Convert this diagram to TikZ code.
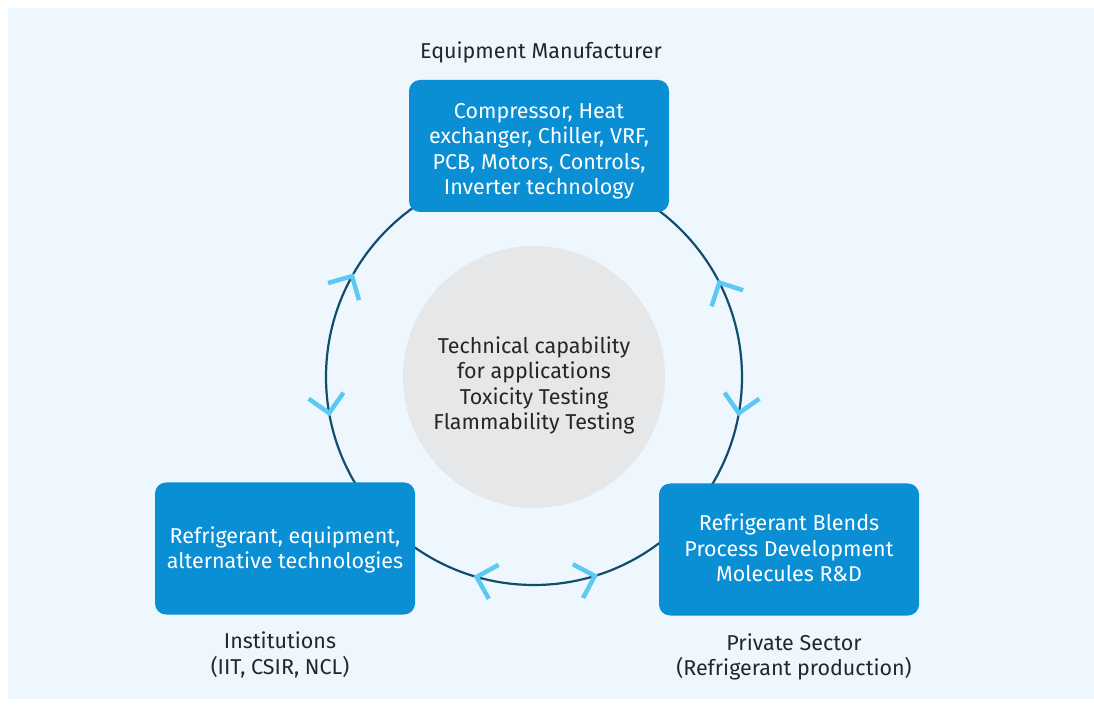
\documentclass[tikz,border=0pt]{standalone}
\usepackage{fontspec}
\setmainfont{Fira Sans}
\usetikzlibrary{calc}
\definecolor{panelbg}{HTML}{EFF7FE}
\definecolor{blockblue}{HTML}{0A8FD5}
\definecolor{ringline}{HTML}{114E6D}
\definecolor{chevcyan}{HTML}{5CC8F4}
\definecolor{coregray}{HTML}{E6E7E9}
\definecolor{labelink}{HTML}{262626}

\begin{document}
\begin{tikzpicture}[
  x=1pt,
  y=1pt,
  every node/.style={font=\fontsize{21.5}{25.5}\selectfont, text=labelink},
  ring/.style={ringline, line width=2.2pt},
  core/.style={circle, fill=coregray, inner sep=0pt, minimum size=262pt},
  block/.style={rectangle, rounded corners=11pt, fill=blockblue,
                inner sep=0pt, minimum width=260pt, minimum height=132pt},
  blocktext/.style={text=white, align=center, inner sep=0pt},
  caption/.style={align=center, inner sep=0pt},
  chevron/.style={chevcyan, line width=4.5pt}
]
  % ---- page and panel ----
  \useasboundingbox (0,0) rectangle (1094,704);
  \fill[panelbg] (8,5) rectangle (1094,696);

  % ---- ring and core ----
  \coordinate (hub) at (534,327);
  \draw[ring] (hub) circle[radius=208];
  \node[core] (capability) at (hub) {};
  \node[caption] (capabilitytext) at (534,318.5)
    {Technical capability\\for applications\\Toxicity Testing\\Flammability Testing};

  % ---- chevrons on the ring (angle / sense) ----
  \foreach \a/\s in {151/-1, 190/1, 27/1, -10/-1, 254/-1, 287/1}{
    \pgfmathsetmacro{\d}{\a+90*\s}
    \draw[chevron] ($(hub)+(\a:208)$) ++(\d+135:25) -- ++(\d-45:25) -- ++(\d-135:25);
  }

  % ---- the three blocks ----
  \node[block] (equipment) at (539,558) {};
  \node[block] (institutions) at (285,155.5) {};
  \node[block] (private) at (789,154.5) {};

  % ---- block texts (set a little off centre, as printed) ----
  \node[blocktext] (equipmenttext) at ([yshift=-5.5pt]equipment.center)
    {Compressor, Heat\\exchanger, Chiller, VRF,\\PCB, Motors, Controls,\\Inverter technology};
  \node[blocktext] (institutionstext) at ([yshift=-1.5pt]institutions.center)
    {Refrigerant, equipment,\\alternative technologies};
  \node[blocktext] (privatetext) at ([yshift=1.5pt]private.center)
    {Refrigerant Blends\\Process Development\\Molecules R\&D};

  % ---- captions ----
  \node[caption] (equipmentcap) at (541,652) {Equipment Manufacturer};
  \node[caption] (institutionscap) at (280,49) {Institutions\\(IIT, CSIR, NCL)};
  \node[caption] (privatecap) at (794,47) {Private Sector\\(Refrigerant production)};
\end{tikzpicture}
\end{document}
